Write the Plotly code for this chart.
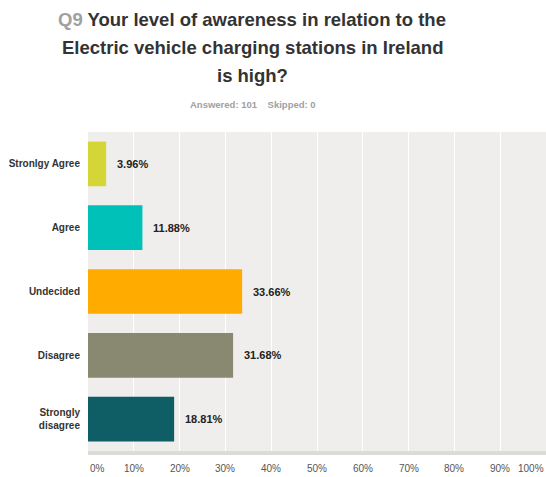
import plotly.graph_objects as go

categories = ["Stronlgy Agree", "Agree", "Undecided", "Disagree", "Strongly<br>disagree"]
percentages = [3.96, 11.88, 33.66, 31.68, 18.81]
bar_colors = ["#d3d636", "#00c1b8", "#ffab00", "#898871", "#0f5e66"]
tick_values = [0, 10, 20, 30, 40, 50, 60, 70, 80, 90, 100]
tick_labels = ["0%", "10%", "20%", "30%", "40%", "50%", "60%", "70%", "80%", "90%", "100%"]
title_lines = [
    "<span style='color:#a0a0a0'>Q9</span> Your level of awareness in relation to the",
    "Electric vehicle charging stations in Ireland",
    "is high?",
]
subtitle = "Answered: 101&nbsp;&nbsp;&nbsp;&nbsp;Skipped: 0"

FONT = "Liberation Sans, Arial, sans-serif"
W, H = 546, 477
L, T, B = 88, 132, 26
PLOT_H = H - T - B


def py(pixel_y):
    # page pixel row -> paper y
    return (H - B - pixel_y) / PLOT_H


def px(pixel_x):
    return (pixel_x - L) / (W - L)


fig = go.Figure()

fig.add_trace(go.Bar(
    x=percentages,
    y=categories,
    orientation="h",
    marker=dict(color=bar_colors, line=dict(width=0)),
    hoverinfo="skip",
))

# value labels to the right of each bar
for cat, val in zip(categories, percentages):
    fig.add_annotation(
        x=val, y=cat, text=f"<b>{val:.2f}%</b>",
        showarrow=False, xanchor="left", xshift=9,
        font=dict(family=FONT, size=11, color="#222222"),
    )

# title, one annotation per line
for i, line in enumerate(title_lines):
    fig.add_annotation(
        x=px(252), y=py(20 + i * 27.5), xref="paper", yref="paper",
        text=f"<b>{line}</b>", showarrow=False,
        xanchor="center", yanchor="middle",
        font=dict(family=FONT, size=18.5, color="#333333"),
    )

fig.add_annotation(
    x=px(253), y=py(104), xref="paper", yref="paper",
    text=f"<b>{subtitle}</b>", showarrow=False,
    xanchor="center", yanchor="middle",
    font=dict(family=FONT, size=9.5, color="#a0a0a0"),
)

# x tick labels: first and last ones are pulled inside the edges
for i, (val, lab) in enumerate(zip(tick_values, tick_labels)):
    anchor = "left" if i == 0 else ("right" if i == len(tick_values) - 1 else "center")
    fig.add_annotation(
        x=val, y=py(468), xref="x", yref="paper", text=lab,
        showarrow=False, xanchor=anchor, yanchor="middle",
        font=dict(family=FONT, size=10, color="#555555"),
    )

fig.update_layout(
    width=W,
    height=H,
    margin=dict(l=L, r=0, t=T, b=B, pad=0),
    paper_bgcolor="white",
    plot_bgcolor="#efeeec",
    showlegend=False,
    bargap=0.3,
)

fig.update_xaxes(
    range=[0, 100],
    tickvals=tick_values,
    showticklabels=False,
    showgrid=True,
    gridcolor="white",
    gridwidth=1,
    zeroline=False,
    showline=True,
    linecolor="#dcdcd6",
    linewidth=4,
    ticks="",
    automargin=False,
    fixedrange=True,
)

fig.update_yaxes(
    autorange="reversed",
    showgrid=False,
    zeroline=False,
    ticks="",
    ticklabelstandoff=7,
    tickmode="array",
    tickvals=categories,
    ticktext=[f"<b>{c}</b>" for c in categories],
    tickfont=dict(family=FONT, size=10, color="#333333"),
    automargin=False,
    fixedrange=True,
)

# drop the default page margin so the figure fills the window
fig.write_html("out.html", post_script="document.body.style.margin='0';",
               config={"displayModeBar": False})
